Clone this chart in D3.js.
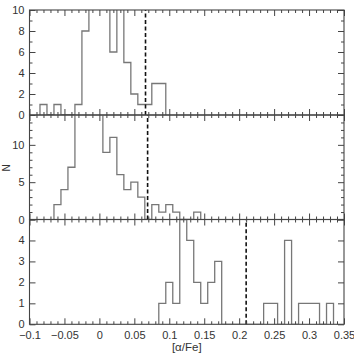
<!DOCTYPE html>
<html><head><meta charset="utf-8">
<script src="https://cdn.jsdelivr.net/npm/d3@7"></script>
<style>body{margin:0;background:#fff}svg{display:block}text{font-family:"Liberation Sans",Arial,sans-serif}</style>
</head><body><svg id="c" width="354" height="357"></svg>
<script>
// ---- data ----
const topCenters = [-0.08,-0.07,-0.06,-0.05,-0.04,-0.03,-0.02,-0.01,0.00,0.01,0.02,0.03,0.04,0.05,0.06,0.07,0.08,0.09];
const topCounts  = [1,0,1,0,0,1,8,13,15,12,6,11,5,2,1,1,3,3];
const midCenters = [-0.06,-0.05,-0.04,-0.03,-0.02,-0.01,0.00,0.01,0.02,0.03,0.04,0.05,0.06,0.07,0.08,0.09,0.10,0.11,0.12,0.13,0.14];
const midCounts  = [2,4,7,17,20,22,18,9,11,6,4,5,3,0,2,1,2,1,0,0,1];
const botCenters = [0.09,0.10,0.11,0.12,0.13,0.14,0.15,0.16,0.17,0.18,0.19,0.20,0.21,0.22,0.23,0.24,0.25,0.26,0.27,0.28,0.29,0.30,0.31,0.32,0.33];
const botCounts  = [1,2,1,5,4,2,1,2,3,0,0,0,0,0,0,1,1,0,4,0,1,1,1,0,1];
const binWidth = 0.01;
const dashedValues = [0.066, 0.069, 0.21];
const xTickValues = [-0.1,-0.05,0,0.05,0.1,0.15,0.2,0.25,0.3,0.35];
const xTickLabels = ["\u22120.1","\u22120.05","0","0.05","0.1","0.15","0.2","0.25","0.3","0.35"];
const yMax = [10, 14, 5];
const yMajor = [[0,2,4,6,8,10],[0,5,10],[0,1,2,3,4,5]];
const yLabeled = [[0,2,4,6,8,10],[0,5,10],[0,1,2,3,4]];
const yMinor = [[1,3,5,7,9],[1,2,3,4,6,7,8,9,11,12,13],[]];
const xLabel = "[\u03b1/Fe]";
const yLabel = "N";

// ---- layout ----
const svg = d3.select("#c");
const L = 29.5, R = 344;
const panelTops = [10, 115, 219.5];
const panelBots = [115, 219.5, 324.3];
const x = d3.scaleLinear().domain([-0.1, 0.35]).range([L, R]);
const xMinor = d3.range(-10, 36).map(d => d/100).filter(v => !xTickValues.some(t => Math.abs(t - v) < 1e-9));

const panels = [
  {c: topCenters, n: topCounts},
  {c: midCenters, n: midCounts},
  {c: botCenters, n: botCounts}
];
const ink = "#444";

panels.forEach((p, i) => {
  const y = d3.scaleLinear().domain([0, yMax[i]]).range([panelBots[i], panelTops[i]]);
  const g = svg.append("g");
  const clipId = "clip" + i;
  svg.append("clipPath").attr("id", clipId).append("rect")
    .attr("x", L).attr("y", panelTops[i]).attr("width", R - L).attr("height", panelBots[i] - panelTops[i]);

  // histogram outline
  const pts = [[p.c[0] - binWidth/2, 0]];
  p.c.forEach((c, k) => { pts.push([c - binWidth/2, p.n[k]]); pts.push([c + binWidth/2, p.n[k]]); });
  pts.push([p.c[p.c.length-1] + binWidth/2, 0]);
  const line = d3.line().x(d => x(d[0])).y(d => y(d[1]));
  g.append("path").attr("d", line(pts)).attr("fill", "none")
    .attr("stroke", "#777").attr("stroke-width", 1.3).attr("clip-path", `url(#${clipId})`);

  // dashed line
  g.append("line").attr("x1", x(dashedValues[i])).attr("x2", x(dashedValues[i]))
    .attr("y1", y(0)).attr("y2", y(yMax[i]))
    .attr("stroke", "#111").attr("stroke-width", 1.6).attr("stroke-dasharray", "4,2.5");

  const style = sel => { sel.select(".domain").remove(); sel.selectAll("line").attr("stroke", ink); sel.selectAll("text").attr("fill", "#333").style("font-size", "11px").style("font-family", '"Liberation Sans",Arial,sans-serif'); };

  // y axes
  g.append("g").attr("transform", `translate(${L},0)`)
    .call(d3.axisLeft(y).tickValues(yMajor[i]).tickSize(-6).tickPadding(5)
      .tickFormat(d => yLabeled[i].includes(d) ? String(d) : ""))
    .call(style);
  g.append("g").attr("transform", `translate(${L},0)`)
    .call(d3.axisLeft(y).tickValues(yMinor[i]).tickSize(-3).tickFormat(""))
    .call(style);
  g.append("g").attr("transform", `translate(${R},0)`)
    .call(d3.axisRight(y).tickValues(yMajor[i]).tickSize(-6).tickFormat(""))
    .call(style);
  g.append("g").attr("transform", `translate(${R},0)`)
    .call(d3.axisRight(y).tickValues(yMinor[i]).tickSize(-3).tickFormat(""))
    .call(style);

  // x axes
  g.append("g").attr("transform", `translate(0,${panelBots[i]})`)
    .call(d3.axisBottom(x).tickValues(xTickValues).tickSize(-6).tickPadding(7)
      .tickFormat((d, k) => i === 2 ? xTickLabels[k] : ""))
    .call(style);
  g.append("g").attr("transform", `translate(0,${panelBots[i]})`)
    .call(d3.axisBottom(x).tickValues(xMinor).tickSize(-3).tickFormat(""))
    .call(style);
  g.append("g").attr("transform", `translate(0,${panelTops[i]})`)
    .call(d3.axisTop(x).tickValues(xTickValues).tickSize(-6).tickFormat(""))
    .call(style);
  g.append("g").attr("transform", `translate(0,${panelTops[i]})`)
    .call(d3.axisTop(x).tickValues(xMinor).tickSize(-3).tickFormat(""))
    .call(style);

  // frame
  g.append("rect").attr("x", L).attr("y", panelTops[i]).attr("width", R - L)
    .attr("height", panelBots[i] - panelTops[i]).attr("fill", "none").attr("stroke", ink).attr("stroke-width", 1.1);
});

svg.append("text").attr("x", (L + R) / 2).attr("y", 351).attr("text-anchor", "middle")
  .attr("fill", "#333").style("font-size", "11.5px").text(xLabel);
svg.append("text").attr("transform", "translate(10,168) rotate(-90)").attr("text-anchor", "middle")
  .attr("fill", "#333").style("font-size", "10px").text(yLabel);
</script></body></html>
